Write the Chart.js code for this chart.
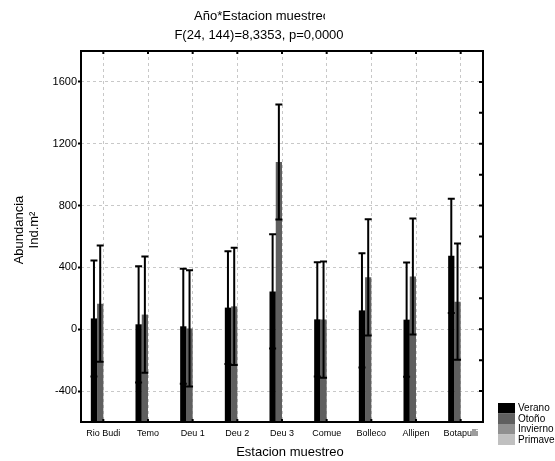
<!DOCTYPE html>
<html>
<head>
<meta charset="utf-8">
<script src="https://cdn.jsdelivr.net/npm/chart.js@4.4.1/dist/chart.umd.min.js"></script>
<style>
  html, body { margin: 0; padding: 0; background: #fff; }
</style>
</head>
<body>
<canvas id="chart" width="555" height="461"></canvas>
<script>
// --- Data ---
const stations = ['Rio Budi', 'Temo', 'Deu 1', 'Deu 2', 'Deu 3', 'Comue', 'Bolleco', 'Allipen', 'Botapulli'];
const seasons = ['Verano', 'Otoño', 'Invierno', 'Primavera'];
const seasonColors = ['#000000', '#5f5f5f', '#909090', '#c0c0c0'];

const veranoMean = [70, 32, 19, 140, 245, 64, 122, 62, 475];
const veranoErr = [375, 376, 372, 365, 370, 370, 370, 370, 370];
const otonoMean = [165, 95, 5, 148, 1082, 63, 336, 341, 178];
const otonoErr = [376, 376, 376, 380, 372, 376, 376, 375, 376];
const inviernoMean = [null, null, null, null, null, null, null, null, null];
const primaveraMean = [null, null, null, null, null, null, null, null, null];

const yTickLabels = [-400, 0, 400, 800, 1200, 1600];
const Y_MIN = -600;
const Y_MAX = 1800;

const titleLines = ['Año*Estacion muestreo', 'F(24, 144)=8,3353, p=0,0000'];
const yTitleLines = ['Abundancia', 'Ind.m²'];
const xTitle = 'Estacion muestreo';

const FONT = "'Liberation Sans', Arial, sans-serif";

// error bars, frame, inner ticks, legend and titles
const statFrame = {
    id: 'statFrame',
    afterDatasetsDraw(chart) {
        const { ctx, chartArea: a, scales: { x, y } } = chart;
        const errs = [veranoErr, otonoErr];

        ctx.save();
        ctx.strokeStyle = '#000';
        ctx.lineWidth = 2;
        errs.forEach((err, di) => {
            const meta = chart.getDatasetMeta(di);
            meta.data.forEach((bar, i) => {
                const v = chart.data.datasets[di].data[i];
                if (v === null) return;
                const top = y.getPixelForValue(v + err[i]);
                const bot = y.getPixelForValue(v - err[i]);
                const cx = bar.x;
                ctx.beginPath();
                ctx.moveTo(cx, top); ctx.lineTo(cx, bot);
                ctx.moveTo(cx - 3.5, top); ctx.lineTo(cx + 3.5, top);
                ctx.moveTo(cx - 3.5, bot); ctx.lineTo(cx + 3.5, bot);
                ctx.stroke();
            });
        });
        ctx.restore();
    },
    afterDraw(chart) {
        const { ctx, chartArea: a, scales: { x, y } } = chart;
        ctx.save();

        // plot frame
        ctx.strokeStyle = '#000';
        ctx.lineWidth = 2;
        ctx.strokeRect(a.left, a.top, a.right - a.left, a.bottom - a.top);

        // small inward ticks on top / bottom / right
        ctx.lineWidth = 2;
        ctx.beginPath();
        stations.forEach((s, i) => {
            const px = x.getPixelForValue(i);
            ctx.moveTo(px, a.top); ctx.lineTo(px, a.top + 3);
            ctx.moveTo(px, a.bottom); ctx.lineTo(px, a.bottom - 3);
        });
        for (let v = Y_MIN + 200; v < Y_MAX; v += 200) {
            const py = y.getPixelForValue(v);
            ctx.moveTo(a.right, py); ctx.lineTo(a.right - 4, py);
        }
        ctx.stroke();

        // titles
        ctx.fillStyle = '#000';
        ctx.textAlign = 'center';
        ctx.textBaseline = 'middle';
        ctx.font = `13px ${FONT}`;
        ctx.save();
        ctx.beginPath();
        ctx.rect(0, 0, 325, 26);
        ctx.clip();
        ctx.fillText(titleLines[0], 262, 16);
        ctx.restore();
        ctx.fillText(titleLines[1], 259, 35);

        ctx.fillText(xTitle, 290, 452);

        ctx.save();
        ctx.translate(19, 230);
        ctx.rotate(-Math.PI / 2);
        ctx.fillText(yTitleLines[0], 0, 0);
        ctx.restore();
        ctx.save();
        ctx.translate(34, 230);
        ctx.rotate(-Math.PI / 2);
        ctx.fillText(yTitleLines[1], 0, 0);
        ctx.restore();

        // legend
        ctx.textAlign = 'left';
        ctx.font = `10px ${FONT}`;
        chart.data.datasets.forEach((ds, i) => {
            const top = 403 + i * 10.5;
            ctx.fillStyle = ds.backgroundColor;
            ctx.fillRect(498, top, 17, 10.5);
            ctx.fillStyle = '#000';
            ctx.fillText(ds.label, 518, top + 5.5);
        });

        ctx.restore();
    }
};

const seriesData = [veranoMean, otonoMean, inviernoMean, primaveraMean];

new Chart(document.getElementById('chart'), {
    type: 'bar',
    data: {
        labels: stations,
        datasets: seasons.map((name, i) => ({
            label: name,
            data: seriesData[i],
            backgroundColor: seasonColors[i],
            borderWidth: 0,
            base: Y_MIN,
            categoryPercentage: 0.56,
            barPercentage: 1.0
        }))
    },
    options: {
        responsive: false,
        animation: false,
        layout: { padding: { left: 0, top: 51, right: 72, bottom: 0 } },
        plugins: {
            legend: { display: false },
            title: { display: false },
            tooltip: { enabled: false }
        },
        scales: {
            x: {
                grid: { offset: false, color: '#c8c8c8', lineWidth: 1, drawTicks: false },
                border: { display: false, dash: [3, 3] },
                ticks: {
                    color: '#000',
                    font: { family: FONT, size: 9 },
                    padding: 6,
                    maxRotation: 0,
                    autoSkip: false
                },
                afterFit: (scale) => { scale.height = 39; }
            },
            y: {
                min: Y_MIN,
                max: Y_MAX,
                grid: {
                    color: (c) => yTickLabels.includes(c.tick.value) ? '#c8c8c8' : 'rgba(0,0,0,0)',
                    tickColor: (c) => yTickLabels.includes(c.tick.value) ? '#000' : 'rgba(0,0,0,0)',
                    tickLength: 3,
                    tickWidth: 2,
                    lineWidth: 1
                },
                border: { display: false, dash: [3, 3] },
                ticks: {
                    stepSize: 200,
                    color: '#000',
                    font: { family: FONT, size: 11 },
                    padding: 1,
                    callback: (v) => yTickLabels.includes(v) ? String(v) : ''
                },
                afterFit: (scale) => { scale.width = 81; }
            }
        }
    },
    plugins: [statFrame]
});
</script>
</body>
</html>
